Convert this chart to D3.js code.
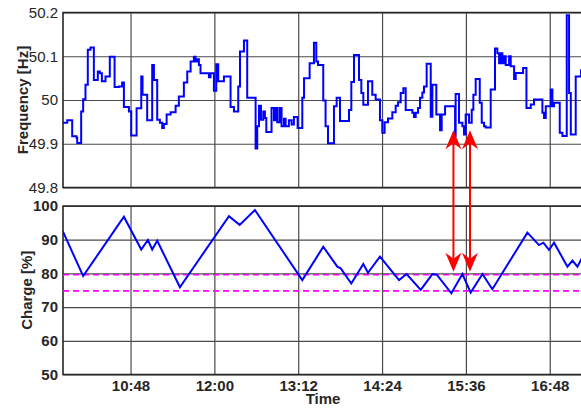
<!DOCTYPE html>
<html>
<head>
<meta charset="utf-8">
<script src="https://cdn.jsdelivr.net/npm/d3@7"></script>
<style>
  body { margin: 0; background: #fff; }
  svg { display: block; }
</style>
</head>
<body>
<div id="chart"></div>
<script>
// Frequency (top) and battery charge (bottom) over one afternoon
// time is kept as minutes after midnight

// frequency samples (step line)
const freqTime = [590, 593.6, 597.9, 601.6, 602.2, 605.6, 607.3, 609.3, 611.3, 613.6, 616.5, 619.9, 621.7, 623.4, 626.5, 630.2,
  634.3, 638.0, 640.8, 642.3, 646.6, 648.6, 653.2, 657.2, 658.3, 662.3, 666.6, 668.1, 670.9, 673.2, 675.2, 676.6, 679.0,
  682.4, 686.7, 689.5, 693.8, 696.7, 699.6, 702.4, 703.8, 705.3, 706.7, 708.1, 715.3, 716.7, 719.6, 721.6, 723.3, 728.2,
  733.9, 736.8, 740.5, 742.0, 745.4, 748.2, 755.4, 756.8, 758.3, 760.0, 762.0, 763.4, 764.6, 769.1, 771.2, 772.6, 774.0,
  776.0, 777.7, 779.8, 781.2, 784.0, 786.3, 788.3, 791.5, 795.5, 797.0, 801.8, 805.5, 807.5, 809.0, 813.5, 815.5, 817.6,
  822.7, 825.0, 827.9, 835.6, 837.6, 839.9, 844.2, 846.2, 847.9, 851.9, 855.6, 858.5, 862.2, 864.2, 866.2, 869.1, 872.8,
  875.7, 877.7, 880.0, 882.3, 884.3, 890.0, 891.4, 892.9, 894.9, 896.6, 898.6, 900.0, 902.3, 905.8, 907.2, 910.6, 913.8,
  915.2, 918.1, 926.7, 927.2, 930.1, 933.0, 934.4, 935.8, 938.7, 941.0, 942.4, 944.4, 947.9, 949.6, 951.6, 953.0, 957.3,
  961.0, 963.0, 964.5, 965.9, 967.3, 968.8, 970.2, 973.1, 974.5, 977.4, 978.8, 985.1, 988.0, 991.7, 994.5, 1001.7, 1003.1,
  1004.6, 1008.9, 1010.3, 1011.7, 1016.6, 1018.9, 1022.6, 1024.6, 1026.1, 1030.3, 1034.9, 1040];
const freqValue = [49.948, 49.954, 49.917, 49.914, 49.902, 49.974, 50.002, 50.035, 50.115, 50.120, 50.046, 50.065, 50.061, 50.043, 50.054, 50.099,
  50.030, 50.031, 50.040, 49.984, 49.974, 49.919, 49.981, 50.054, 50.012, 49.954, 50.080, 50.046, 49.955, 49.948, 49.936, 49.945, 49.967,
  49.972, 49.987, 50.008, 50.040, 50.065, 50.088, 50.099, 50.088, 50.093, 50.080, 50.061, 50.052, 50.061, 50.021, 50.082, 50.043, 50.054,
  49.984, 49.974, 50.031, 50.111, 50.136, 50.005, 49.889, 49.940, 49.987, 49.955, 49.974, 49.959, 49.927, 49.982, 49.954, 49.982, 49.949,
  49.982, 49.940, 49.957, 49.940, 49.954, 49.944, 49.961, 49.936, 50.005, 50.050, 50.084, 50.131, 50.088, 50.080, 49.999, 49.940, 49.901,
  49.986, 50.005, 49.952, 49.977, 50.041, 50.103, 50.046, 50.016, 49.989, 50.043, 50.012, 50.001, 49.954, 49.925, 49.949, 49.958, 49.972,
  49.987, 49.995, 50.016, 50.027, 49.977, 49.971, 49.961, 49.971, 49.982, 50.005, 50.017, 50.031, 50.083, 49.962, 50.035, 49.967, 49.931,
  49.967, 49.986, 49.918, 50.014, 49.948, 49.940, 49.921, 49.967, 49.948, 49.978, 50.012, 50.048, 49.994, 49.948, 49.940, 49.937, 50.024,
  50.118, 50.107, 50.084, 50.107, 50.084, 50.100, 50.080, 50.100, 50.077, 50.048, 50.062, 50.073, 49.982, 49.990, 50.001, 49.971, 49.959,
  49.986, 50.024, 49.986, 49.994, 49.925, 49.918, 50.194, 50.016, 49.921, 50.054, 50.068, 50.068];

// charge turning points
const chargeTime = [590, 607.3, 642.3, 657.2, 662.9, 666.6, 670.9, 690.4, 732.5, 741.7, 754.8, 795.5, 813.5, 825.6, 828.5,
  837.6, 847.9, 851.9, 862.2, 878.6, 885.1, 897.2, 907.2, 911, 923.5, 933.0, 940.1, 950.2, 958.7, 988.8, 998.8, 1002.5,
  1007.4, 1011.7, 1023.2, 1027.5, 1031.8, 1035.5, 1040];
const chargeValue = [92.4, 79.2, 96.8, 87.1, 89.9, 87.1, 89.7, 75.9, 97.0, 94.4, 98.8, 78.0, 87.9, 82.0, 81.5,
  77.0, 82.8, 80.2, 85.0, 78.0, 79.8, 75.1, 79.8, 79.6, 74.1, 79.8, 74.3, 79.8, 75.3, 92.1, 88.4, 89.1,
  87.0, 89.1, 82.0, 83.8, 82.0, 84.5, 86.0];

// dashed charge limits
const limitLevels = [79.6, 74.8];

// ticks
const timeTicks = [648, 720, 792, 864, 936, 1008];
const timeTickLabels = ["10:48", "12:00", "13:12", "14:24", "15:36", "16:48"];
const freqTicks = [49.8, 49.9, 50, 50.1, 50.2];
const freqTickLabels = ["49.8", "49.9", "50", "50.1", "50.2"];
const chargeTicks = [50, 60, 70, 80, 90, 100];

// red double arrows (time, freq end, charge end)
const arrowTimes = [925.3, 939.5];
const arrowFreq = 49.931;
const arrowCharge = 80.5;

// dimensions
const W = 581, H = 410;
const left = 63, right = 587;
const top1 = 12.5, bottom1 = 187.5;
const top2 = 206, bottom2 = 374.5;
const font = "'Liberation Sans', Arial, Helvetica, sans-serif";

const svg = d3.select("#chart")
    .append("svg")
    .attr("width", W)
    .attr("height", H);

const x = d3.scaleLinear().domain([590, 1040]).range([left, right]);
const yF = d3.scaleLinear().domain([49.8, 50.2]).range([bottom1, top1]);
const yC = d3.scaleLinear().domain([50, 100]).range([bottom2, top2]);

svg.append("clipPath").attr("id", "clip1")
    .append("rect").attr("x", left).attr("y", top1 - 2).attr("width", right - left).attr("height", bottom1 - top1 + 4);
svg.append("clipPath").attr("id", "clip2")
    .append("rect").attr("x", left).attr("y", top2 - 2).attr("width", right - left).attr("height", bottom2 - top2 + 4);

function panel(y, top, bottom, ticks, labels, bold) {
    const g = svg.append("g");

    // grid
    g.append("g")
        .attr("transform", `translate(${left},0)`)
        .call(d3.axisLeft(y).tickValues(ticks).tickSize(-(right - left)).tickFormat(""))
        .call(a => a.select(".domain").remove())
        .selectAll("line").attr("stroke", "#4a4a4a").attr("stroke-width", 1.2);
    g.append("g")
        .attr("transform", `translate(0,${bottom})`)
        .call(d3.axisBottom(x).tickValues(timeTicks).tickSize(-(bottom - top)).tickFormat(""))
        .call(a => a.select(".domain").remove())
        .selectAll("line").attr("stroke", "#4a4a4a").attr("stroke-width", 1.2);

    // y tick labels
    g.append("g")
        .attr("transform", `translate(${left},0)`)
        .call(d3.axisLeft(y).tickValues(ticks).tickSize(0).tickPadding(5).tickFormat((d, i) => labels[i]))
        .call(a => a.select(".domain").remove())
        .selectAll("text")
        .attr("font-family", font)
        .attr("font-size", 15)
        .attr("font-weight", bold ? "bold" : "normal")
        .attr("fill", "#262626");

    // box (top, left, bottom)
    g.append("path")
        .attr("d", `M${W + 5},${top}H${left}V${bottom}H${W + 5}`)
        .attr("fill", "none")
        .attr("stroke", "#262626")
        .attr("stroke-width", 1.6);
    return g;
}

panel(yF, top1, bottom1, freqTicks, freqTickLabels, false);
panel(yC, top2, bottom2, chargeTicks, chargeTicks.map(String), true);

// time labels on the lower panel
svg.append("g")
    .attr("transform", `translate(0,${bottom2})`)
    .call(d3.axisBottom(x).tickValues(timeTicks).tickSize(0).tickPadding(6).tickFormat((d, i) => timeTickLabels[i]))
    .call(a => a.select(".domain").remove())
    .selectAll("text")
    .attr("font-family", font)
    .attr("font-size", 15)
    .attr("font-weight", "bold")
    .attr("fill", "#262626");

// frequency step line
const freqLine = d3.line()
    .x((d, i) => x(freqTime[i]))
    .y(d => yF(d))
    .curve(d3.curveStepAfter);

svg.append("path")
    .datum(freqValue)
    .attr("clip-path", "url(#clip1)")
    .attr("d", freqLine)
    .attr("fill", "none")
    .attr("stroke", "#0000ff")
    .attr("stroke-width", 2);

// limit lines
svg.selectAll(".limit")
    .data(limitLevels)
    .join("line")
    .attr("class", "limit")
    .attr("x1", left).attr("x2", W)
    .attr("y1", d => yC(d)).attr("y2", d => yC(d))
    .attr("stroke", "#ff00ff")
    .attr("stroke-width", 1.6)
    .attr("stroke-dasharray", "6,4");

// charge line
const chargeLine = d3.line()
    .x((d, i) => x(chargeTime[i]))
    .y(d => yC(d));

svg.append("path")
    .datum(chargeValue)
    .attr("clip-path", "url(#clip2)")
    .attr("d", chargeLine)
    .attr("fill", "none")
    .attr("stroke", "#0000ff")
    .attr("stroke-width", 2);

// arrows
function head(xp, yp, dir) {
    // dir = -1 points up, 1 points down
    const len = 19, half = 8, notch = 6;
    return `M${xp},${yp}L${xp - half},${yp - dir * len}L${xp},${yp - dir * (len - notch)}L${xp + half},${yp - dir * len}Z`;
}

arrowTimes.forEach(function(t) {
    const xp = x(t), y1 = yF(arrowFreq), y2 = yC(arrowCharge);
    svg.append("line")
        .attr("x1", xp).attr("x2", xp)
        .attr("y1", y1 + 10).attr("y2", y2 - 10)
        .attr("stroke", "#ff0000")
        .attr("stroke-width", 2);
    svg.append("path").attr("d", head(xp, y1, -1)).attr("fill", "#ff0000");
    svg.append("path").attr("d", head(xp, y2, 1)).attr("fill", "#ff0000");
});

// axis titles
svg.append("text")
    .attr("x", 323).attr("y", 404)
    .attr("text-anchor", "middle")
    .attr("font-family", font).attr("font-size", 15).attr("font-weight", "bold")
    .attr("fill", "#262626")
    .text("Time");

svg.append("text")
    .attr("transform", `translate(28,${(top1 + bottom1) / 2}) rotate(-90)`)
    .attr("text-anchor", "middle")
    .attr("font-family", font).attr("font-size", 15).attr("font-weight", "bold")
    .attr("fill", "#262626")
    .text("Frequency [Hz]");

svg.append("text")
    .attr("transform", `translate(32,${(top2 + bottom2) / 2}) rotate(-90)`)
    .attr("text-anchor", "middle")
    .attr("font-family", font).attr("font-size", 15).attr("font-weight", "bold")
    .attr("fill", "#262626")
    .text("Charge [%]");
</script>
</body>
</html>
